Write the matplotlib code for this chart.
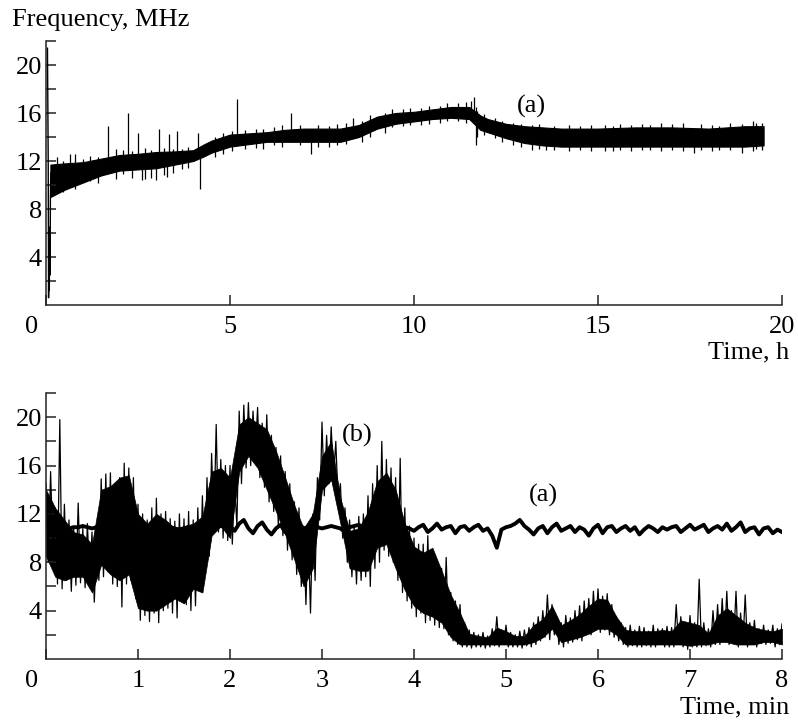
import numpy as np
import matplotlib
matplotlib.use('Agg')
import matplotlib.pyplot as plt

plt.rcParams['font.family'] = ['Liberation Serif', 'DejaVu Serif']

# ---- panel 1: long run, time in hours ----
# start transient (very beginning of record)
start_t = [0.04, 0.06, 0.07, 0.08, 0.09, 0.10, 0.11, 0.12, 0.13]
start_f = [21.4, 12.0, 0.6, 6.5, 1.2, 5.8, 2.5, 9.0, 11.0]

# noise band envelope
top_t = [0.12, 0.5, 1.0, 1.5, 2.0, 2.5, 3.0, 3.5, 4.0, 4.3, 4.5, 5.0, 5.5, 6.0, 6.5,
         7.0, 7.5, 8.0, 8.5, 9.0, 9.5, 10.0, 10.5, 11.0, 11.5, 11.8, 12.0, 12.5,
         13.0, 13.5, 14.0, 15.0, 16.0, 17.0, 18.0, 19.0, 19.5]
top_hi = [11.7, 11.8, 11.9, 12.2, 12.5, 12.6, 12.75, 12.8, 12.9, 13.4, 13.7, 14.2, 14.3,
          14.4, 14.6, 14.7, 14.7, 14.7, 15.0, 15.7, 16.0, 16.1, 16.3, 16.5, 16.5, 15.8,
          15.5, 15.1, 14.9, 14.8, 14.7, 14.7, 14.8, 14.8, 14.7, 14.9, 14.9]
top_lo = [9.0, 9.6, 10.2, 10.8, 11.2, 11.3, 11.4, 11.7, 12.0, 12.4, 12.7, 13.2, 13.4,
          13.6, 13.6, 13.6, 13.6, 13.6, 14.0, 14.7, 15.1, 15.3, 15.5, 15.6, 15.5, 14.6,
          14.4, 13.9, 13.5, 13.3, 13.2, 13.2, 13.2, 13.2, 13.2, 13.2, 13.3]

# spikes sticking out of the band (time, from, to)
top_spk_t = [0.3, 0.45, 0.65, 0.8, 1.0, 1.2, 1.4, 1.68, 1.9, 2.1, 2.23, 2.35, 2.5, 2.6,
             2.7, 2.85, 3.0, 3.07, 3.2, 3.3, 3.35, 3.45, 3.57, 3.7, 3.85, 4.13, 4.18,
             4.6, 4.8, 5.05, 5.2, 5.4, 5.7, 5.9, 6.2, 6.4, 6.65, 6.9, 7.2, 7.4, 7.7,
             7.9, 8.15, 8.35, 8.6, 8.8, 9.2, 9.4, 9.7, 9.9, 10.2, 10.4, 10.7, 10.9,
             11.2, 11.4, 11.55, 11.62, 11.68, 11.72, 11.9, 12.2, 12.4, 12.7, 12.9,
             13.2, 13.4, 13.6, 13.8, 14.2, 14.5, 14.8, 15.2, 15.4, 15.6, 15.9, 16.2,
             16.4, 16.7, 17.0, 17.3, 17.6, 17.8, 18.1, 18.3, 18.6, 18.9, 19.2, 19.3,
             19.45]
top_spk_lo = [9.3, 9.4, 11.0, 9.7, 11.3, 10.3, 10.2, 12.0, 10.5, 10.9, 12.2, 10.6, 12.0,
              10.4, 10.5, 10.6, 10.4, 12.2, 10.8, 10.7, 12.3, 11.0, 12.3, 11.3, 11.4,
              12.5, 9.7, 12.3, 12.6, 12.8, 13.7, 13.0, 13.1, 13.0, 13.3, 13.2, 14.0,
              13.3, 12.6, 13.2, 13.2, 13.3, 13.4, 14.3, 13.6, 14.0, 14.3, 14.8, 14.9,
              15.0, 15.0, 15.1, 15.2, 15.3, 15.3, 15.2, 15.8, 15.6, 13.3, 14.0, 14.2,
              13.9, 13.6, 13.3, 13.2, 12.9, 13.0, 12.9, 12.9, 12.8, 12.9, 12.8, 12.8,
              12.8, 12.9, 12.8, 12.9, 12.9, 12.8, 12.9, 12.8, 12.7, 12.9, 12.8, 12.9,
              12.9, 12.7, 12.8, 13.0, 12.9]
top_spk_hi = [12.3, 12.0, 12.6, 12.6, 12.2, 12.4, 12.3, 14.9, 13.0, 12.9, 16.0, 12.8,
              14.3, 12.0, 13.1, 12.9, 12.0, 14.7, 13.1, 12.0, 14.25, 13.0, 14.5, 13.0,
              13.2, 14.3, 12.5, 14.0, 14.3, 14.5, 17.2, 14.6, 14.7, 14.7, 14.8, 15.0,
              16.0, 15.0, 13.8, 15.0, 14.9, 15.1, 15.2, 15.6, 15.3, 15.8, 16.0, 16.3,
              16.3, 16.4, 16.4, 16.6, 16.6, 16.8, 16.8, 16.9, 17.0, 17.3, 16.5, 16.2,
              15.9, 15.6, 15.3, 15.2, 15.1, 15.0, 15.1, 14.2, 14.9, 15.0, 14.9, 15.0,
              15.0, 14.9, 15.1, 15.0, 15.1, 15.0, 15.2, 15.1, 15.2, 14.5, 15.1, 15.0,
              14.9, 15.2, 15.1, 15.3, 15.2, 15.2]

# ---- panel 2: short run, time in minutes ----
# dense core of trace (b), every 0.1 min
core_t = np.arange(0, 81) * 0.1
core_hi = [14.0, 12.5, 11.5, 10.5, 10.3, 9.5, 14.0, 14.3, 15.0, 15.2,
           12.0, 11.2, 12.0, 11.5, 10.8, 11.0, 11.2, 11.8, 15.5, 15.8,
           15.0, 19.4, 20.0, 19.5, 19.0, 17.2, 15.0, 12.7, 10.8, 12.0,
           16.8, 18.0, 13.3, 10.6, 10.8, 12.2, 14.7, 15.4, 14.0, 11.2,
           9.3, 8.8, 9.2, 7.3, 5.3, 3.8, 2.1, 1.9, 1.8, 2.6,
           2.3, 1.9, 1.9, 2.8, 3.3, 4.4, 2.8, 3.2, 3.7, 4.4,
           5.0, 4.9, 3.5, 2.4, 2.3, 2.3, 2.3, 2.4, 2.3, 3.2,
           3.0, 2.8, 2.1, 3.6, 4.2, 3.6, 3.0, 2.6, 2.4, 2.3, 2.5]
core_lo = [8.5, 6.8, 6.5, 6.8, 6.8, 5.5, 7.8, 7.0, 6.5, 7.0,
           4.2, 4.0, 4.0, 4.5, 5.0, 4.6, 5.8, 5.5, 10.2, 11.0,
           10.0, 15.5, 16.8, 15.8, 14.0, 12.2, 10.3, 8.2, 6.0, 7.5,
           14.0, 14.8, 11.2, 7.5, 7.3, 7.3, 9.2, 9.5, 7.5, 5.7,
           4.4, 3.8, 3.5, 3.0, 1.8, 1.2, 1.2, 1.2, 1.2, 1.2,
           1.2, 1.2, 1.2, 1.4, 1.8, 2.5, 1.4, 1.6, 1.8, 2.1,
           2.5, 2.5, 2.0, 1.2, 1.2, 1.2, 1.2, 1.2, 1.2, 1.2,
           1.1, 1.2, 1.2, 1.4, 1.4, 1.2, 1.2, 1.2, 1.4, 1.4, 1.2]

# trace (b) itself, one value every 0.025 min
b_t = np.arange(0, 321) * 0.025
b_f = [14.5, 8.0, 15.5, 9.0, 12.5, 6.2, 19.8, 5.8, 12.8, 6.5, 11.5, 5.6,
       11.0, 6.1, 12.9, 6.3, 10.8, 5.9, 11.2, 6.4, 10.5, 4.7, 9.8, 6.5,
       14.9, 6.8, 15.3, 7.2, 15.4, 6.2, 14.0, 6.0, 15.0, 4.3, 16.2, 6.2,
       15.8, 6.5, 15.0, 5.0, 12.8, 3.2, 12.0, 3.6, 11.5, 3.1, 12.5, 3.8,
       13.3, 3.0, 12.0, 4.0, 12.2, 4.2, 11.6, 3.8, 11.4, 3.4, 12.0, 5.0,
       11.6, 4.5, 12.2, 4.0, 11.5, 4.4, 12.5, 6.0, 13.5, 7.0, 15.0, 8.5,
       17.0, 11.0, 19.4, 10.5, 16.5, 10.0, 16.0, 9.8, 16.0, 9.5, 14.5, 11.0,
       20.5, 14.5, 21.0, 15.8, 21.2, 16.0, 20.5, 17.0, 20.8, 15.0, 19.5, 14.2,
       20.2, 13.0, 18.5, 12.2, 17.5, 11.0, 16.8, 10.2, 15.5, 9.0, 14.5, 8.2,
       13.0, 7.0, 12.5, 6.0, 11.0, 4.5, 10.5, 3.8, 12.0, 6.5, 15.0, 11.5,
       19.6, 13.5, 18.5, 14.5, 19.2, 15.0, 18.0, 13.0, 14.5, 10.0, 12.5, 8.0,
       11.5, 6.8, 11.0, 6.2, 11.8, 6.5, 12.0, 6.8, 13.5, 6.0, 14.5, 7.5,
       16.0, 8.0, 18.0, 9.0, 16.5, 8.5, 15.8, 8.0, 15.0, 6.5, 16.6, 5.5,
       12.5, 4.8, 11.0, 4.2, 10.0, 3.5, 9.5, 3.8, 9.5, 3.0, 10.2, 3.2,
       9.0, 2.8, 8.0, 2.6, 7.5, 2.5, 8.4, 2.0, 5.5, 1.5, 4.8, 1.2,
       4.5, 1.0, 3.0, 1.0, 2.4, 0.9, 2.2, 1.0, 2.0, 1.0, 2.2, 0.9,
       1.9, 1.0, 2.5, 1.1, 3.5, 1.0, 2.4, 1.2, 2.8, 1.0, 2.2, 1.0,
       2.0, 1.0, 2.3, 0.9, 2.4, 1.1, 2.6, 1.0, 3.0, 1.2, 3.5, 1.5,
       4.0, 1.8, 5.3, 1.6, 4.5, 2.0, 3.5, 1.2, 3.0, 1.0, 3.6, 1.3,
       3.4, 1.4, 4.0, 1.6, 4.4, 1.5, 4.8, 2.0, 5.0, 2.0, 5.6, 2.5,
       5.8, 2.2, 5.2, 2.4, 5.4, 2.0, 4.5, 1.8, 3.5, 1.5, 3.0, 1.2,
       2.6, 1.0, 2.8, 1.1, 2.4, 1.0, 2.7, 1.0, 2.6, 1.1, 2.3, 1.0,
       2.8, 1.0, 2.5, 1.2, 2.5, 1.0, 2.7, 1.0, 2.6, 1.0, 4.5, 1.2,
       3.5, 1.0, 3.0, 0.8, 3.6, 1.0, 3.0, 1.0, 6.6, 1.0, 3.0, 1.1,
       2.5, 1.0, 4.0, 1.2, 4.5, 1.2, 5.0, 1.5, 5.6, 1.2, 4.0, 1.5,
       5.6, 1.0, 3.8, 1.2, 5.3, 1.0, 3.0, 1.2, 3.2, 1.0, 2.5, 1.3,
       2.8, 1.2, 2.4, 1.3, 2.8, 1.0, 2.5, 1.2, 2.9]

# reference signal (a), every 0.05 min
a_t = np.arange(0, 161) * 0.05
a_f = [10.9, 10.8, 10.9, 11.0, 10.9, 10.8, 10.9, 10.9, 11.0, 10.9, 10.8, 10.9, 10.9, 11.0,
       10.9, 10.8, 10.9, 10.9, 10.8, 10.9, 11.0, 10.9, 10.8, 10.9, 10.9, 10.8, 10.9, 10.9,
       10.8, 10.7, 10.8, 10.9, 10.8, 10.7, 10.8, 10.9, 10.8, 10.9, 11.0, 10.9, 11.0, 10.6,
       11.2, 11.5, 10.8, 10.4, 11.0, 11.3, 10.7, 10.3, 10.8, 11.1, 10.5, 10.2, 10.6, 10.9,
       10.8, 10.9, 11.0, 10.9, 10.8, 10.9, 11.0, 10.9, 10.8, 10.5, 10.9, 11.0, 11.1, 10.9,
       10.8, 10.9, 11.0, 10.9, 10.8, 10.9, 10.9, 11.0, 10.9, 10.8, 10.6, 10.9, 11.1, 10.5,
       10.8, 11.2, 10.7, 10.9, 11.0, 10.4, 10.9, 11.0, 10.6, 10.9, 11.1, 10.6, 10.8, 10.2,
       9.2, 10.7, 10.9, 11.0, 11.2, 11.5, 11.0, 10.7, 10.3, 10.8, 11.0, 10.4, 10.9, 11.2,
       10.6, 10.8, 11.0, 10.5, 10.9, 10.7, 10.2, 10.8, 11.1, 10.4, 10.9, 11.0, 10.5, 10.8,
       11.0, 10.6, 10.9, 10.3, 10.7, 11.0, 10.8, 10.5, 10.9, 10.7, 10.9, 11.0, 10.5, 10.8,
       11.1, 10.7, 10.9, 11.1, 10.5, 10.8, 11.0, 10.7, 11.2, 10.6, 10.9, 11.3, 10.5, 10.8,
       10.9, 10.3, 10.8, 10.9, 10.4, 10.7, 10.5]

fig = plt.figure(figsize=(7.98, 7.2), dpi=100)
W, H = 798.0, 720.0
ax1 = fig.add_axes([46 / W, (H - 305) / H, (782 - 46) / W, (305 - 41) / H])
ax2 = fig.add_axes([46 / W, (H - 659) / H, (782 - 46) / W, (659 - 393) / H])

# panel (1)
ax1.fill_between(top_t, top_lo, top_hi, color='black', lw=0.8, edgecolor='black')
ax1.vlines(top_spk_t, top_spk_lo, top_spk_hi, color='black', lw=0.9)
ax1.plot(start_t, start_f, color='black', lw=1.0)
ax1.set_xlim(0, 20)
ax1.set_ylim(0, 22)
ax1.set_xticks([0, 5, 10, 15, 20])
ax1.set_xticklabels(['', '5', '10', '15', '20'])

# panel (2)
ax2.fill_between(core_t, core_lo, core_hi, color='black', lw=0.5, edgecolor='black')
ax2.plot(b_t, b_f, color='black', lw=0.9)
ax2.plot(a_t, a_f, color='black', lw=2.8, solid_joinstyle='round')
ax2.set_xlim(0, 8)
ax2.set_ylim(0, 22)
ax2.set_xticks(range(0, 9))
ax2.set_xticklabels([''] + [str(i) for i in range(1, 9)])

FS = 19
for ax in (ax1, ax2):
    ax.spines['top'].set_visible(False)
    ax.spines['right'].set_visible(False)
    for s in ('left', 'bottom'):
        ax.spines[s].set_linewidth(1.1)
        ax.spines[s].set_color('#222222')
    ax.set_yticks([4, 8, 12, 16, 20])
    ax.set_yticks([2, 6, 10, 14, 18, 22], minor=True)
    ax.tick_params(axis='both', which='both', direction='in', length=7, width=1.1,
                   labelsize=FS, color='#222222')
    ax.tick_params(axis='x', pad=8)
    ax.tick_params(axis='y', pad=3)
    # shared origin label
    ax.annotate('0', xy=(0, 0), xycoords='axes fraction', xytext=(-14, -22),
                textcoords='offset pixels', fontsize=FS, ha='center', va='center')

fig.text(12 / W, 1 - 20 / H, 'Frequency, MHz', fontsize=FS, ha='left', va='center')
fig.text(789 / W, 1 - 352 / H, 'Time, h', fontsize=FS, ha='right', va='center')
fig.text(789 / W, 1 - 707 / H, 'Time, min', fontsize=FS, ha='right', va='center')
fig.text(531 / W, 1 - 106 / H, '(a)', fontsize=FS, ha='center', va='center')
fig.text(357 / W, 1 - 435 / H, '(b)', fontsize=FS, ha='center', va='center')
fig.text(543 / W, 1 - 495 / H, '(a)', fontsize=FS, ha='center', va='center')

fig.savefig('out.png', dpi=100)
